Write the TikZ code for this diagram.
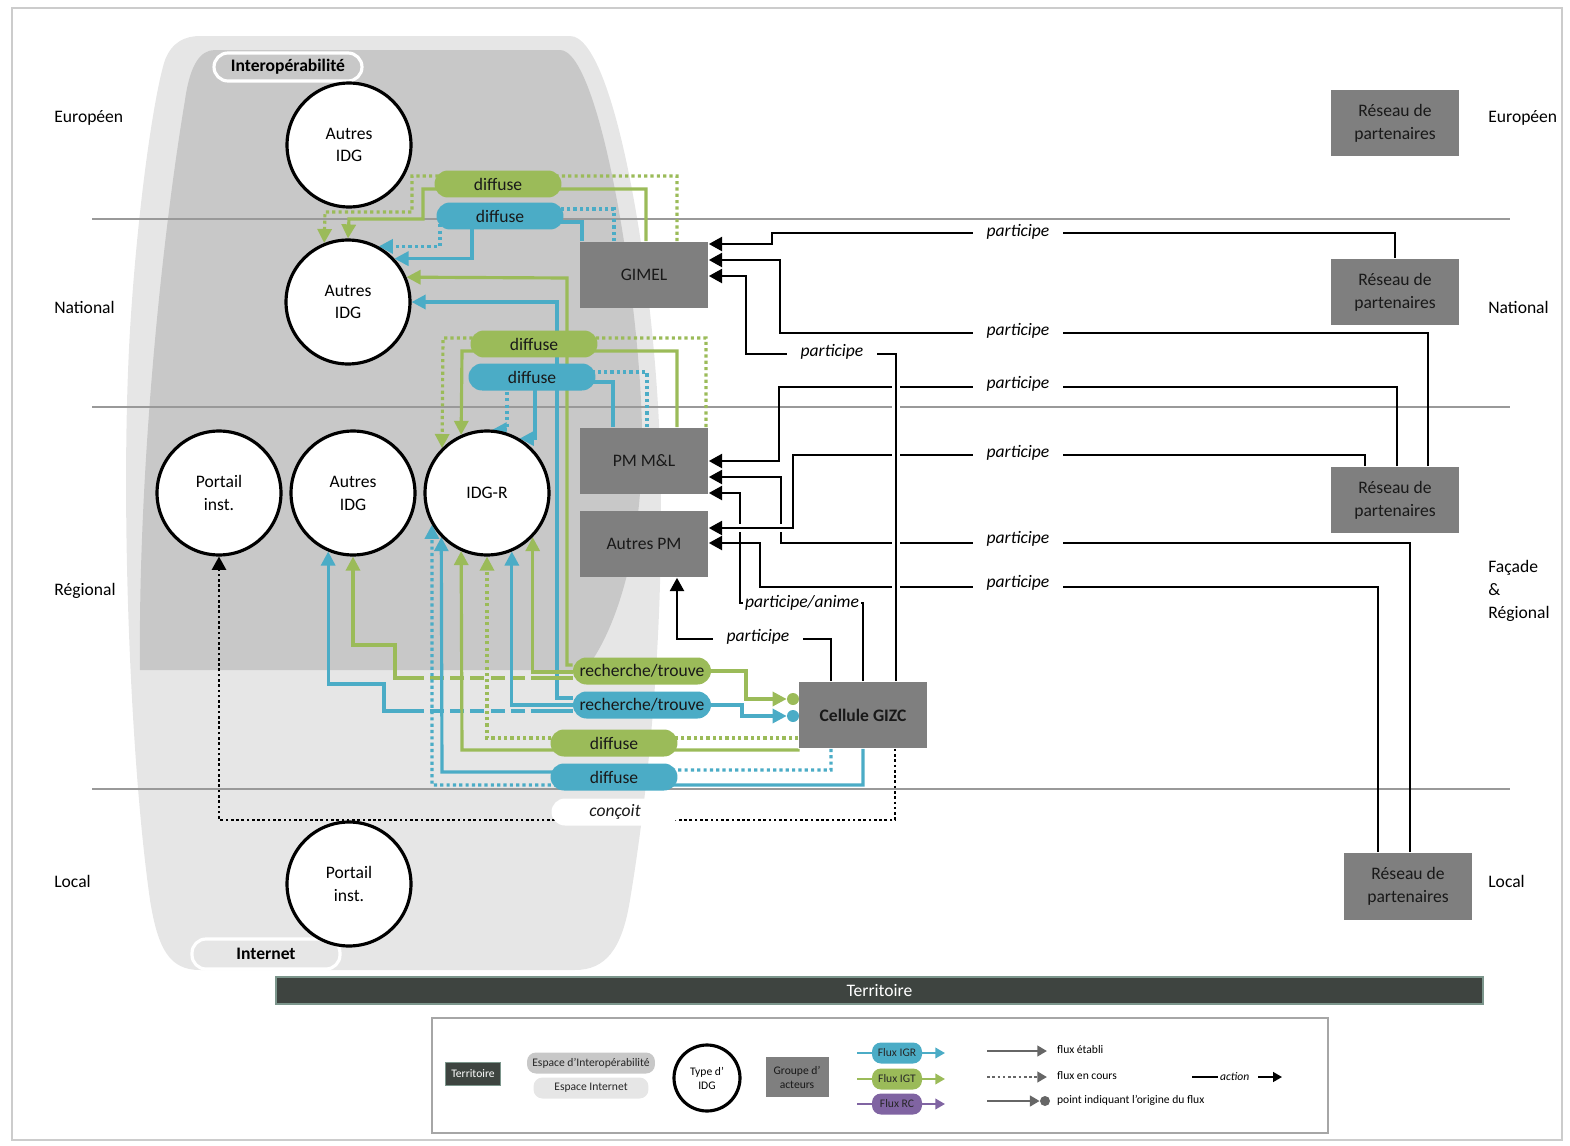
\documentclass[tikz,border=0pt]{standalone}
\usepackage{fontspec}
\setmainfont{Carlito}
\usetikzlibrary{arrows.meta}

\pgfdeclarelayer{bg}
\pgfdeclarelayer{wires}
\pgfsetlayers{bg,wires,main}

\definecolor{igtgreen}{HTML}{9BBB59}
\definecolor{igrblue}{HTML}{4BACC6}
\definecolor{rcpurple}{HTML}{8064A2}
\definecolor{groupgray}{HTML}{7F7F7F}
\definecolor{interopgray}{HTML}{C8C8C8}
\definecolor{webgray}{HTML}{E6E6E6}
\definecolor{terrdark}{HTML}{3E4440}
\definecolor{terredge}{HTML}{7C968C}

\newcommand{\lvlfont}{\fontsize{10}{13}\selectfont}
\newcommand{\legfont}{\fontsize{6.6}{8}\selectfont}

\begin{document}
\begin{tikzpicture}[
    x=0.02cm, y=-0.02cm,
    lvltext/.style={anchor=west, align=left, inner sep=0pt, font=\lvlfont},
    lvlline/.style={draw=black!40, line width=0.6pt},
    spacelabel/.style={rectangle, rounded corners=2.8mm, draw=white, line width=1.8pt,
        minimum width=2.96cm, minimum height=0.56cm, font=\lvlfont\bfseries},
    idgcircle/.style={circle, draw=black, line width=1.8pt, fill=white,
        minimum size=2.48cm, inner sep=0pt, align=center, font=\lvlfont},
    groupbox/.style={rectangle, fill=groupgray, minimum width=2.58cm,
        minimum height=1.34cm, align=center, text=black!90, font=\lvlfont},
    greenpill/.style={rectangle, rounded corners=2.7mm, fill=igtgreen, text=black!90,
        minimum width=2.54cm, minimum height=0.54cm, inner sep=1pt, font=\lvlfont},
    bluepill/.style={greenpill, fill=igrblue},
    greenln/.style={draw=igtgreen, line width=1.8pt},
    blueln/.style={draw=igrblue, line width=1.8pt},
    greenarr/.style={greenln, ->, >={Triangle[length=8pt,width=8pt]}},
    bluearr/.style={blueln, ->, >={Triangle[length=8pt,width=8pt]}},
    greendot/.style={greenarr, dash pattern=on 1.8pt off 1.8pt},
    bluedot/.style={bluearr, dash pattern=on 1.8pt off 1.8pt},
    greengap/.style={greenln, dash pattern=on 8pt off 3.5pt},
    bluegap/.style={blueln, dash pattern=on 8pt off 3.5pt},
    actarr/.style={->, >={Triangle[length=7.5pt,width=8pt]}, draw=black, line width=1.1pt},
    blackdot/.style={actarr, dash pattern=on 1.5pt off 1.5pt},
    overline/.style={preaction={draw=white, line width=4.5pt, -}},
    actlabel/.style={fill=white, inner xsep=8pt, inner ysep=1pt, font=\lvlfont\itshape},
    origdot/.style={circle, minimum size=0.24cm, inner sep=0pt},
    legpill/.style={rectangle, rounded corners=1.8mm, minimum height=0.42cm, inner sep=1pt,
        text=black!85, font=\legfont},
    legtext/.style={anchor=west, inner sep=1pt, font=\legfont},
    legarr/.style={->, >={Triangle[length=5.5pt,width=6pt]}, draw=black!60, line width=1.5pt}
]
    \useasboundingbox (0,0) rectangle (1570,1146);

    % --- FONDS : espace Internet / espace d'interopérabilité ---
    \begin{pgfonlayer}{bg}
    \draw[black!20, line width=0.6pt] (12,8) rectangle (1562,1140);
    \fill[webgray] (200,36) -- (570,36) .. controls (615,36) and (655,280) .. (660,450)
        .. controls (665,620) and (650,780) .. (630,900)
        .. controls (622,950) and (605,970) .. (575,970) -- (200,970)
        .. controls (170,970) and (158,950) .. (150,900)
        .. controls (130,760) and (120,500) .. (130,330)
        .. controls (138,200) and (155,90) .. (165,60)
        .. controls (172,42) and (185,36) .. (200,36) -- cycle;
    \fill[interopgray] (215,50) -- (560,50) .. controls (600,50) and (640,300) .. (642,430)
        .. controls (644,560) and (610,640) .. (585,670) -- (140,670)
        .. controls (138,480) and (160,250) .. (185,100)
        .. controls (190,65) and (200,50) .. (215,50) -- cycle;
    % lignes de niveau
    \draw[lvlline] (92,219) -- (1510,219);
    \draw[lvlline] (92,407) -- (1510,407);
    \draw[lvlline] (92,789) -- (1510,789);
    \end{pgfonlayer}

    % --- NIVEAUX ---
    \node[lvltext] (eurl) at (54,118) {Européen};
    \node[lvltext] (natl) at (54,307) {National};
    \node[lvltext] (regl) at (54,591) {Régional};
    \node[lvltext] (locl) at (54,881) {Local};
    \node[lvltext] (eurr) at (1488,118) {Européen};
    \node[lvltext] (natr) at (1488,307) {National};
    \node[lvltext] (regr) at (1488,591) {Façade\\\&\\Régional};
    \node[lvltext] (locr) at (1488,881) {Local};

    \node[spacelabel, fill=interopgray] (interlab) at (288,67) {Interopérabilité};
    \node[spacelabel, fill=webgray, minimum height=0.6cm] (weblab) at (266,954) {Internet};

    % --- TYPES D'IDG ---
    \node[idgcircle] (idgeur) at (349,145) {Autres\\IDG};
    \node[idgcircle] (idgnat) at (348,302) {Autres\\IDG};
    \node[idgcircle] (portreg) at (219,493) {Portail\\inst.};
    \node[idgcircle] (idgreg) at (353,493) {Autres\\IDG};
    \node[idgcircle] (idgr) at (487,493) {IDG-R};
    \node[idgcircle] (portloc) at (349,884) {Portail\\inst.};

    % --- GROUPES D'ACTEURS ---
    \node[groupbox] (gimel) at (644,275) {GIMEL};
    \node[groupbox] (pmml) at (644,461) {PM M\&L};
    \node[groupbox] (autpm) at (644,544) {Autres PM};
    \node[groupbox, font=\lvlfont\bfseries] (gizc) at (863,715) {Cellule GIZC};
    \node[groupbox] (reseur) at (1395,123) {Réseau de\\partenaires};
    \node[groupbox] (resnat) at (1395,292) {Réseau de\\partenaires};
    \node[groupbox] (resreg) at (1395,500) {Réseau de\\partenaires};
    \node[groupbox] (resloc) at (1408,886) {Réseau de\\partenaires};

    % --- FLUX ---
    \node[greenpill] (difgn) at (498,184) {diffuse};
    \node[bluepill] (difbn) at (500,216) {diffuse};
    \node[greenpill] (difgr) at (534,344) {diffuse};
    \node[bluepill] (difbr) at (532,377) {diffuse};
    \node[greenpill, minimum width=2.76cm] (rechg) at (642,671) {recherche/trouve};
    \node[bluepill, minimum width=2.76cm] (rechb) at (642,705) {recherche/trouve};
    \node[greenpill] (difgc) at (614,743) {diffuse};
    \node[bluepill] (difbc) at (614,777) {diffuse};
    \node[greenpill, fill=white, font=\lvlfont\itshape] (concoit) at (615,812) {conçoit};
    \node[origdot, fill=igtgreen] (origg) at (793,699) {};
    \node[origdot, fill=igrblue] (origb) at (793,716) {};

    \begin{pgfonlayer}{wires}
    % GIMEL -> Autres IDG (national)
    \draw[greendot] (677,0 |- gimel.north) |- (412,176) |- (325,212) -- (idgnat.112);
    \draw[greenarr] (646,0 |- gimel.north) |- (423,189) |- (349,219) -- (idgnat.north);
    \draw[bluedot] (614,0 |- gimel.north) |- (440,209) |- (idgnat.61);
    \draw[bluearr] (582,0 |- gimel.north) |- (472,222) |- (idgnat.43);
    \draw[greenarr] (rechg.west |- 0,665) -| (567,278) -- (idgnat.23);
    \draw[bluearr] (rechb.west |- 0,698) -| (557,302) -- (idgnat.east);

    % PM M&L -> IDG-R
    \draw[greendot] (706,0 |- pmml.north) |- (443,338) -- (idgr.135);
    \draw[greenarr] (677,0 |- pmml.north) |- (462,351) -- (idgr.114);
    \draw[bluedot] (647,0 |- pmml.north) |- (507,372) |- (idgr.85);
    \draw[bluearr] (613,0 |- pmml.north) |- (535,382) |- (idgr.59);

    % recherche/trouve -> Autres IDG (régional) et IDG-R
    \draw[greenln] (rechg.west |- 0,678) -- (545,678);
    \draw[greengap] (545,678) -- (418,678);
    \draw[greenarr] (418,678) -| (395,645) -| (idgreg.south);
    \draw[blueln] (rechb.west |- 0,711) -- (545,711);
    \draw[bluegap] (545,711) -- (418,711);
    \draw[bluearr] (418,711) -| (384,684) -| (idgreg.247);
    \draw[greenarr] (rechg.west |- 0,672) -| (idgr.-44);
    \draw[bluearr] (rechb.west |- 0,705) -| (idgr.-67);
    % origine : Cellule GIZC
    \draw[greenarr] (rechg.east) -| (746,0 |- origg) -- (origg);
    \draw[bluearr] (rechb.east) -| (742,0 |- origb) -- (origb);

    % Cellule GIZC -> IDG-R
    \draw[greendot] (gizc.west |- 0,738) -| (idgr.south);
    \draw[greenarr] (gizc.south west) |- (462,750) -- (idgr.246);
    \draw[bluedot] (831,0 |- gizc.south) |- (600,770) |- (432,785) -- (idgr.210);
    \draw[bluearr] (863,0 |- gizc.south) |- (610,785) |- (442,772) -- (idgr.224);
    \draw[blackdot] (895,0 |- gizc.south) |- (600,820) -| (portreg.south);

    % actions (participe)
    \draw[actarr] (resnat.north) |- (772,233) |- (gimel.east |- 0,244);
    \draw[actarr] (1428,0 |- resreg.north) |- (780,333) |- (gimel.east |- 0,260);
    \draw[actarr] (1397,0 |- resreg.north) |- (779,387) |- (pmml.east |- 0,461);
    \draw[actarr] (1410,0 |- resloc.north) |- (781,543) |- (pmml.east |- 0,477);
    \draw[actarr] (gizc.north) |- (740,603) |- (pmml.east |- 0,493);
    \draw[actarr] (1378,0 |- resloc.north) |- (760,587) |- (autpm.east |- 0,543);
    \draw[actarr] (831,0 |- gizc.north) |- (677,639) -- (677,0 |- autpm.south);
    \draw[actarr, overline] (1365,0 |- resreg.north) |- (793,455) |- (autpm.east |- 0,528);
    \draw[actarr, overline] (896,0 |- gizc.north) |- (746,354) |- (gimel.east |- 0,276);
    \end{pgfonlayer}

    \node[actlabel] (lpa) at (1018,232) {participe};
    \node[actlabel] (lpb) at (1018,331) {participe};
    \node[actlabel] (lpc) at (832,352) {participe};
    \node[actlabel] (lpd) at (1018,384) {participe};
    \node[actlabel] (lpe) at (1018,453) {participe};
    \node[actlabel] (lpf) at (1018,539) {participe};
    \node[actlabel] (lpg) at (1018,583) {participe};
    \node[actlabel, inner xsep=1pt] (lph) at (802,603) {participe/anime};
    \node[actlabel] (lpi) at (758,637) {participe};

    % --- TERRITOIRE ---
    \node[rectangle, fill=terrdark, draw=terredge, line width=1.2pt, minimum width=24.14cm,
        minimum height=0.54cm, text=white, font=\lvlfont] (terr) at (879.5,990.5) {Territoire};

    % --- LEGENDE ---
    \draw[draw=black!35, line width=0.9pt] (432,1018) rectangle (1328,1133);
    \node[rectangle, fill=terrdark, draw=terredge, line width=0.8pt, text=white,
        minimum width=1.08cm, minimum height=0.46cm, font=\legfont] (lgterr) at (473,1074) {Territoire};
    \node[legpill, fill=interopgray, minimum width=2.56cm] (lginter) at (591,1063) {Espace d'Interopérabilité};
    \node[legpill, fill=webgray, minimum width=2.3cm] (lgweb) at (591,1088) {Espace Internet};
    \node[idgcircle, minimum size=1.32cm, font=\legfont] (lgidg) at (707,1078) {Type d'\\IDG};
    \node[groupbox, minimum width=1.26cm, minimum height=0.8cm, font=\legfont] (lgacteur) at (797,1077) {Groupe d'\\acteurs};

    \draw[bluearr, line width=1.2pt, >={Triangle[length=5.5pt,width=6pt]}] (857,1053) -- (945,1053);
    \node[legpill, fill=igrblue, minimum width=1.0cm] (lgigr) at (897,1053) {Flux IGR};
    \draw[greenarr, line width=1.2pt, >={Triangle[length=5.5pt,width=6pt]}] (857,1079) -- (945,1079);
    \node[legpill, fill=igtgreen, minimum width=1.0cm] (lgigt) at (897,1079) {Flux IGT};
    \draw[->, >={Triangle[length=5.5pt,width=6pt]}, draw=rcpurple, line width=1.2pt] (857,1104) -- (945,1104);
    \node[legpill, fill=rcpurple, minimum width=1.0cm] (lgrc) at (897,1104) {Flux RC};

    \draw[legarr] (987,1051) -- (1047,1051);
    \node[legtext] (lgest) at (1055,1050) {flux établi};
    \draw[legarr, dash pattern=on 1.5pt off 1.5pt] (987,1077) -- (1047,1077);
    \node[legtext] (lgcours) at (1055,1076) {flux en cours};
    \node[circle, fill=black!60, minimum size=0.2cm, inner sep=0pt] (lgdot) at (1045,1101) {};
    \draw[legarr] (987,1101) -- (lgdot);
    \node[legtext] (lgorig) at (1055,1100) {point indiquant l'origine du flux};
    \node[legtext, font=\legfont\itshape] (lgaction) at (1218,1077) {action};
    \draw[black, line width=1pt] (1192,1077) -- (lgaction.west);
    \draw[->, >={Triangle[length=5pt,width=5.5pt]}, line width=1pt] (1258,1077) -- (1282,1077);
\end{tikzpicture}
\end{document}
